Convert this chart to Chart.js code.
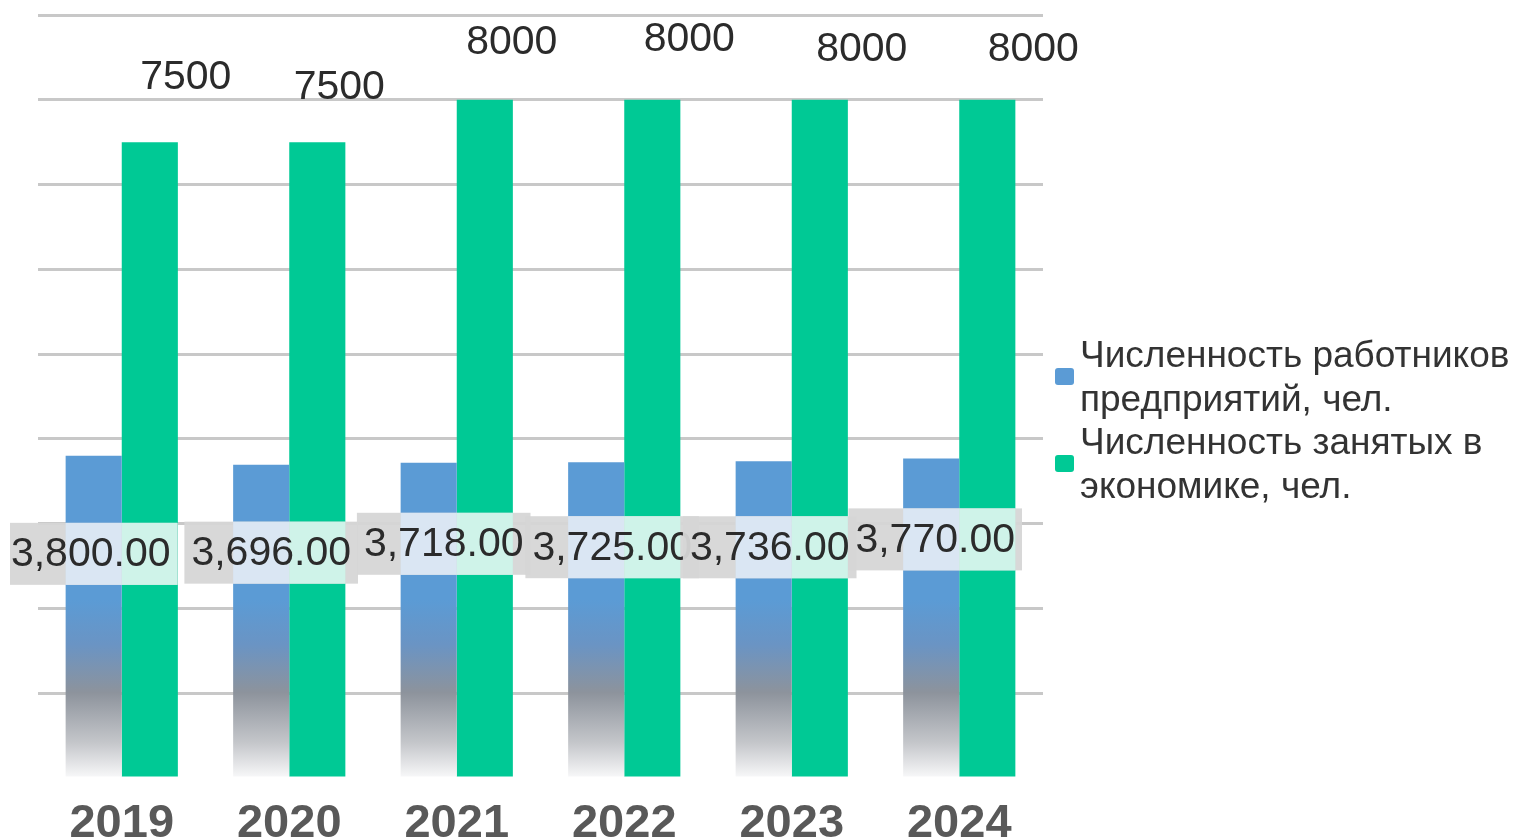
<!DOCTYPE html>
<html>
<head>
<meta charset="utf-8">
<script src="https://cdn.jsdelivr.net/npm/chart.js@4.4.0/dist/chart.umd.min.js"></script>
<style>
  body { margin: 0; background: #fff; }
  #wrap { width: 1516px; height: 838px; }
</style>
</head>
<body>
<div id="wrap"><canvas id="chart" width="1516" height="838"></canvas></div>
<script>
const years = ['2019', '2020', '2021', '2022', '2023', '2024']
const workers = [3800, 3696, 3718, 3725, 3736, 3770]   // численность работников предприятий
const employed = [7500, 7500, 8000, 8000, 8000, 8000]  // численность занятых в экономике
const seriesNames = [
    ['Численность работников', 'предприятий, чел.'],
    ['Численность занятых в', 'экономике, чел.']
]

const FONT = "'Liberation Sans', Arial, sans-serif"
const BLUE = '#5b9bd5'
const GREEN = '#00c995'

// label nudges in px relative to the bar top (hand placed in the original)
const greenNudge = [[36, -64], [22, -54], [27, -57], [37, -60], [42, -50], [46, -50]]
const blueNudge = [[-3, 98], [10, 88], [15, 81], [16, 85], [6, 86], [4, 81]]

function blueFill(ctx) {
    const chart = ctx.chart
    if (!chart.chartArea) return BLUE
    const y = chart.scales.y
    const g = chart.ctx.createLinearGradient(0, y.getPixelForValue(0), 0, y.getPixelForValue(2100))
    g.addColorStop(0, '#f9f9fa')
    g.addColorStop(0.2, '#c4c6ca')
    g.addColorStop(0.48, '#8d939c')
    g.addColorStop(0.75, '#6a94c4')
    g.addColorStop(1, BLUE)
    return g
}

const labelsPlugin = {
    id: 'valueLabels',
    afterDatasetsDraw(chart) {
        const c = chart.ctx
        const blueMeta = chart.getDatasetMeta(0).data
        const greenMeta = chart.getDatasetMeta(1).data
        c.save()
        c.font = `41px ${FONT}`
        c.textAlign = 'center'
        c.textBaseline = 'middle'
        c.fillStyle = '#2b2b2b'
        greenMeta.forEach((el, i) => {
            c.fillText(String(employed[i]), el.x + greenNudge[i][0], el.y + greenNudge[i][1])
        })
        // boxed labels for the first series
        blueMeta.forEach((el, i) => {
            const txt = workers[i].toLocaleString('en-US', {minimumFractionDigits: 2, maximumFractionDigits: 2})
            const cx = el.x + blueNudge[i][0]
            const cy = el.y + blueNudge[i][1]
            const w = c.measureText(txt).width + 14
            const h = 62
            const bx = Math.max(cx - w / 2, chart.chartArea.left - 28), by = cy - h / 2
            const bw = cx + w / 2 - bx
            c.fillStyle = 'rgba(214,214,214,0.95)'
            c.fillRect(bx, by, bw, h)
            // pale tint where the box covers a bar
            const bars = [[blueMeta, '#dae6f3'], [greenMeta, '#cff3e9']]
            bars.forEach(([meta, col]) => {
                meta.forEach(b => {
                    const l = Math.max(bx, b.x - b.width / 2)
                    const r = Math.min(bx + bw, b.x + b.width / 2)
                    const t = Math.max(by, b.y)
                    const bt = Math.min(by + h, b.base)
                    if (r > l && bt > t) {
                        c.fillStyle = col
                        c.fillRect(l, t, r - l, bt - t)
                    }
                })
            })
            c.save()
            c.beginPath()
            c.rect(bx, by, bw, h)
            c.clip()
            c.fillStyle = '#2b2b2b'
            c.fillText(txt, cx, cy + 1)
            c.restore()
        })
        c.restore()
    },
    afterDraw(chart) {
        const c = chart.ctx
        const a = chart.chartArea
        const colors = [BLUE, GREEN]
        c.save()
        c.font = `37px ${FONT}`
        c.textAlign = 'left'
        c.textBaseline = 'middle'
        let y = 357
        seriesNames.forEach((lines, i) => {
            c.fillStyle = colors[i]
            c.beginPath()
            c.roundRect(a.right + 12, y + 11, 19, 17, 3)
            c.fill()
            c.fillStyle = '#333333'
            lines.forEach(line => {
                c.fillText(line, a.right + 37, y)
                y += 43.5
            })
        })
        c.restore()
    }
}

new Chart(document.getElementById('chart'), {
    type: 'bar',
    data: {
        labels: years,
        datasets: [
            { label: seriesNames[0].join(' '), data: workers, backgroundColor: blueFill },
            { label: seriesNames[1].join(' '), data: employed, backgroundColor: GREEN }
        ]
    },
    options: {
        responsive: false,
        animation: false,
        devicePixelRatio: 1,
        categoryPercentage: 0.67,
        barPercentage: 1.0,
        layout: { padding: { left: 38, right: 473, top: 15, bottom: 0 } },
        plugins: {
            legend: { display: false },
            tooltip: { enabled: false }
        },
        scales: {
            x: {
                grid: { display: false },
                border: { display: false },
                ticks: {
                    color: '#595959',
                    padding: 10,
                    font: { family: FONT, size: 47, weight: 'bold', lineHeight: 1.2 }
                },
                afterFit(scale) { scale.height = 60 }
            },
            y: {
                min: 0,
                max: 9000,
                ticks: { display: false, stepSize: 1000 },
                border: { display: false },
                grid: {
                    drawTicks: false,
                    lineWidth: 3,
                    color: ctx => ctx.tick && ctx.tick.value === 0 ? 'rgba(0,0,0,0)' : '#c8c8c8'
                },
                afterFit(scale) { scale.width = 0 }
            }
        }
    },
    plugins: [labelsPlugin]
})
</script>
</body>
</html>
